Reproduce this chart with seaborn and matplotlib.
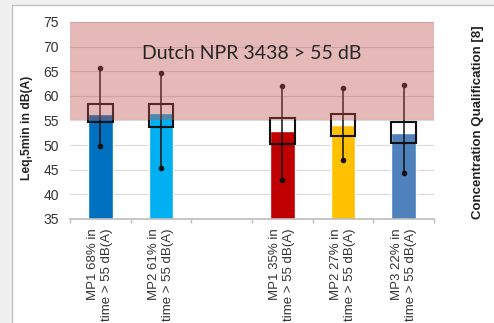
import matplotlib.pyplot as plt
import pandas as pd
import seaborn as sns
from matplotlib.patches import Rectangle

# categories (one empty slot between the two groups)
order = ["MP1 68% in\ntime > 55 dB(A)", "MP2 61% in\ntime > 55 dB(A)", " ",
         "MP1 35% in\ntime > 55 dB(A)", "MP2 27% in\ntime > 55 dB(A)",
         "MP3 22% in\ntime > 55 dB(A)"]
labels = [o for o in order if o.strip()]
levels = [56.3, 56.5, 52.8, 54.1, 52.4]
box_low = [54.7, 53.6, 50.3, 51.9, 50.4]
box_high = [58.4, 58.4, 55.5, 56.3, 54.7]
whisk_low = [49.9, 45.3, 43.0, 47.0, 44.3]
whisk_high = [65.7, 64.7, 62.1, 61.7, 62.2]
colors = ['#0070C0', '#00B0F0', '#C00000', '#FFC000', '#4F81BD']

df = pd.DataFrame({'label': labels, 'level': levels})

sns.set_theme(style='white')
plt.rcParams['font.family'] = ['Liberation Sans', 'DejaVu Sans']

fig = plt.figure(figsize=(4.94, 3.23), dpi=100, facecolor='#f0f0f0')
fig.patches.append(Rectangle((12/494, -0.1), 1.0, 1 - 5/323 + 0.1, transform=fig.transFigure,
                             facecolor='white', edgecolor='#c0c0c0', lw=1, zorder=-1))
ax = fig.add_axes([70/494, 1 - 219/323, 364/494, 197/323])
ax.set_facecolor('none')

sns.barplot(data=df, x='label', y='level', hue='label', order=order,
            palette=dict(zip(labels, colors)), legend=False, width=0.41,
            saturation=1, ax=ax, zorder=2)

xpos = [order.index(l) for l in labels]
ax.bar(xpos, [h - l for h, l in zip(box_high, box_low)], bottom=box_low, width=0.41,
       fill=False, edgecolor='#111111', lw=1.5, zorder=3)
for x, lo, hi in zip(xpos, whisk_low, whisk_high):
    ax.plot([x, x], [lo, hi], color='#111111', lw=1.1, marker='o', ms=3, zorder=4)

ax.axhspan(55, 75, color='#C0504D', alpha=0.4, lw=0, zorder=5)
ax.text(2.5, 68.7, 'Dutch NPR 3438 > 55 dB', ha='center', va='center',
        fontsize=14, family='Lato', color='#262626', zorder=6)

ax.set_xlim(-0.5, 5.5)
ax.set_ylim(35, 75)
ax.set_yticks(range(35, 80, 5))
ax.yaxis.grid(True, color='#d9d9d9', lw=0.8)
ax.set_axisbelow(True)
ax.tick_params(axis='y', length=0, pad=8, labelsize=10, labelcolor='#333333')
ax.set_xticks(range(len(order)))
ax.set_xticklabels(order, rotation=90, ma='right', fontsize=9.5, color='#333333')
ax.set_xticks([i - 0.5 for i in range(len(order) + 1)], minor=True)
ax.tick_params(axis='x', which='major', length=0, pad=7)
ax.tick_params(axis='x', which='minor', length=3, color='#bfbfbf', bottom=True)
ax.set_xlabel('')
ax.set_ylabel('')
for s in ['left', 'top', 'right']:
    ax.spines[s].set_visible(False)
ax.spines['bottom'].set_color('#bfbfbf')

fig.text(27/494, 1 - 128/323, 'Leq,5min in dB(A)', rotation=90, ha='center', va='center',
         fontsize=8.7, fontweight='bold', color='#222222')
fig.text(478/494, 1 - 122/323, 'Concentration Qualification [8]', rotation=90, ha='center',
         va='center', fontsize=9.5, fontweight='bold', color='#222222')

plt.savefig('out.png', dpi=100, facecolor=fig.get_facecolor())
